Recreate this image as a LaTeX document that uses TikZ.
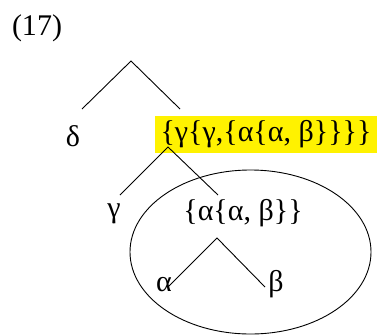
\documentclass[tikz,border=0pt]{standalone}
\usepackage{fontspec}
\setmainfont{Liberation Serif}
\usetikzlibrary{shapes.geometric}
\begin{document}
\begin{tikzpicture}[x=1pt,y=-1pt,
  lbl/.style={inner sep=0pt,font=\fontsize{30}{32}\selectfont},
  branch/.style={line width=0.9pt},
  hl/.style={lbl,fill=yellow,minimum width=222pt,minimum height=37pt}]
\useasboundingbox (0,0) rectangle (377,335);
\node[lbl] (num) at (37,28) {(17)};
% top tree
\coordinate (t1) at (131,61);
\coordinate (t1l) at (82,109);
\coordinate (t1r) at (180,109);
\node[lbl] (delta) at (73,136) {δ};
\node[hl] (big) at (266,134.5) {\{γ\{γ,\{α\{α, β\}\}\}\}};
\draw[branch] (t1l) -- (t1) -- (t1r);
% second tree
\coordinate (t2) at (168,147);
\coordinate (t2l) at (120,195);
\coordinate (t2r) at (218,195);
\node[lbl] (gamma) at (114,214) {γ};
\node[lbl] (mid) at (243,213) {\{α\{α, β\}\}};
\draw[branch] (t2l) -- (t2) -- (t2r);
% third tree
\coordinate (t3) at (217,238);
\coordinate (t3l) at (168,287);
\coordinate (t3r) at (265,287);
\node[lbl] (alpha) at (164,285) {α};
\node[lbl] (beta) at (276,284) {β};
\draw[branch] (t3l) -- (t3) -- (t3r);
% ellipse
\node[draw,line width=0.9pt,ellipse,minimum width=241pt,minimum height=164pt,inner sep=0pt] (circ) at (250.5,252) {};
\end{tikzpicture}
\end{document}
